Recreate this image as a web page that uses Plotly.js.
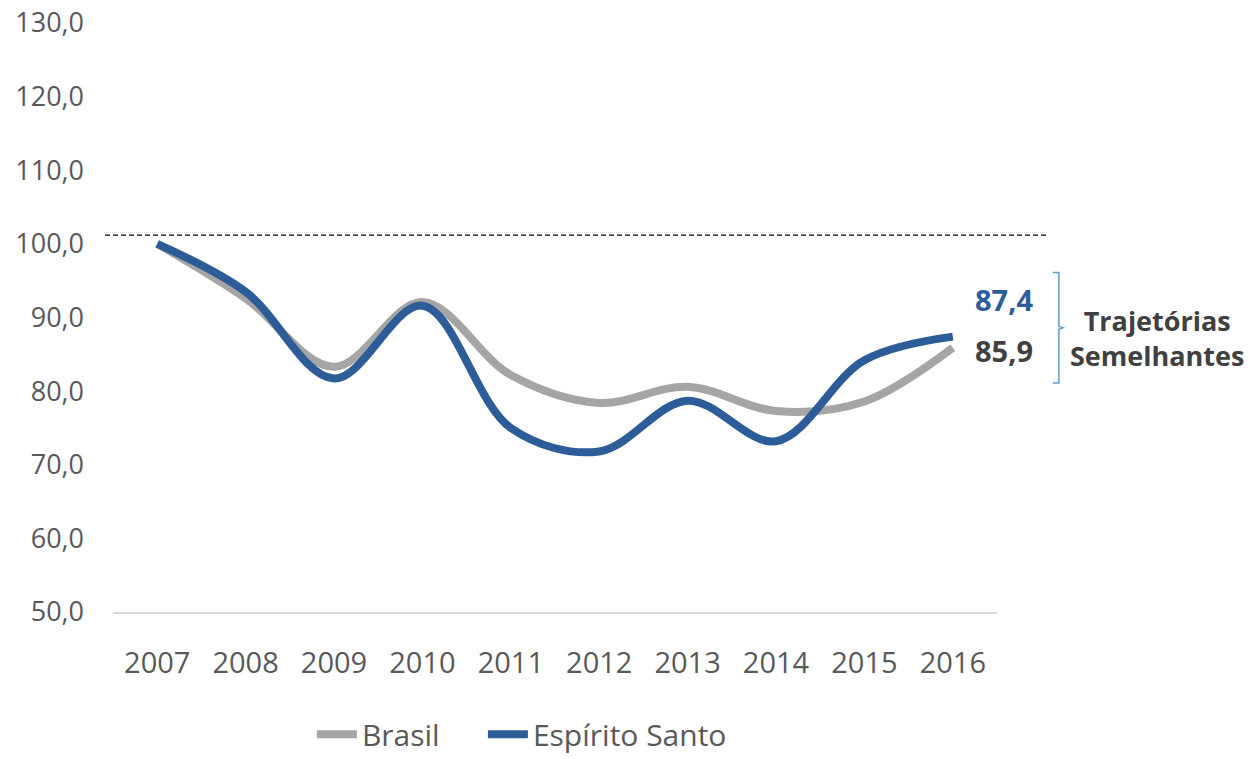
<!DOCTYPE html>
<html>
<head>
<meta charset="utf-8">
<script src="https://cdn.plot.ly/plotly-3.0.1.min.js"></script>
<style>html,body{margin:0;padding:0;background:#fff;}#chart{width:1250px;height:759px;}</style>
</head>
<body>
<div id="chart"></div>
<script>
const years = ['2007','2008','2009','2010','2011','2012','2013','2014','2015','2016'];
const brasil = [100.0, 92.6, 83.3, 92.1, 82.2, 78.4, 80.6, 77.3, 78.6, 85.9];
const espiritoSanto = [100.0, 93.5, 81.7, 91.6, 75.0, 71.8, 78.7, 73.2, 84.2, 87.4];
const yTicks = [50, 60, 70, 80, 90, 100, 110, 120, 130];
const yTickText = ['50,0','60,0','70,0','80,0','90,0','100,0','110,0','120,0','130,0'];
const refLineValue = 101.2;
const bracketLabel = 'Trajetórias<br>Semelhantes';

const fmt = v => v.toFixed(1).replace('.', ',');
const FONT = '"Open Sans", "Noto Sans", sans-serif';
const GRAY = '#A5A5A5';
const BLUE = '#2C5D99';
const last = years.length - 1;

const traces = [
  {x: years, y: brasil, name: 'Brasil', type: 'scatter', mode: 'lines', legendwidth: 116,
   line: {color: GRAY, width: 8, shape: 'spline', smoothing: 1}},
  {x: years, y: espiritoSanto, name: 'Espírito Santo', type: 'scatter', mode: 'lines', legendwidth: 220,
   line: {color: BLUE, width: 8, shape: 'spline', smoothing: 1}}
];

const layout = {
  width: 1250, height: 759,
  margin: {l: 113, r: 253, t: 23, b: 147, autoexpand: false},
  paper_bgcolor: '#fff', plot_bgcolor: '#fff',
  font: {family: FONT, color: '#595959', size: 26},
  showlegend: true,
  legend: {orientation: 'h', x: 0.225, xanchor: 'left', y: -0.2075, yanchor: 'middle',
           font: {size: 30, color: '#595959'}, itemwidth: 40, tracegroupgap: 0},
  xaxis: {type: 'category', range: [-0.5, 9.5], showgrid: false, zeroline: false,
          showline: true, linecolor: '#D9D9D9', linewidth: 1.5, ticks: '',
          ticklabelstandoff: 25, tickfont: {size: 29, color: '#595959'}, fixedrange: true},
  yaxis: {range: [50, 130], tickvals: yTicks, ticktext: yTickText, showgrid: false,
          zeroline: false, showline: false, ticks: '', ticklabelstandoff: 28,
          tickfont: {size: 27, color: '#595959'}, fixedrange: true},
  shapes: [
    {type: 'line', xref: 'paper', yref: 'y', x0: -0.009, x1: 1.0566, y0: refLineValue, y1: refLineValue,
     line: {color: '#000', width: 1.3, dash: '5px,3px'}},
    {type: 'path', xref: 'paper', yref: 'y',
     path: 'M 1.0633 96.1 L 1.0700 96.1 L 1.0700 88.8 L 1.0745 88.6 L 1.0700 88.4 L 1.0700 81.1 L 1.0633 81.1',
     line: {color: '#5B9BD5', width: 1.5}}
  ],
  annotations: [
    {x: last, y: espiritoSanto[last], xref: 'x', yref: 'y', text: '<b>' + fmt(espiritoSanto[last]) + '</b>',
     showarrow: false, xanchor: 'left', yanchor: 'middle', xshift: 20, yshift: 37,
     font: {family: FONT, size: 29, color: BLUE}},
    {x: last, y: brasil[last], xref: 'x', yref: 'y', text: '<b>' + fmt(brasil[last]) + '</b>',
     showarrow: false, xanchor: 'left', yanchor: 'middle', xshift: 20, yshift: -3,
     font: {family: FONT, size: 29, color: '#404040'}},
    {x: 1.181, y: 87.2, xref: 'paper', yref: 'y', text: '<b>' + bracketLabel + '</b>',
     showarrow: false, xanchor: 'center', yanchor: 'middle', align: 'center',
     font: {family: FONT, size: 27, color: '#404040'}}
  ]
};

Plotly.newPlot('chart', traces, layout, {displayModeBar: false, staticPlot: true});
</script>
</body>
</html>
